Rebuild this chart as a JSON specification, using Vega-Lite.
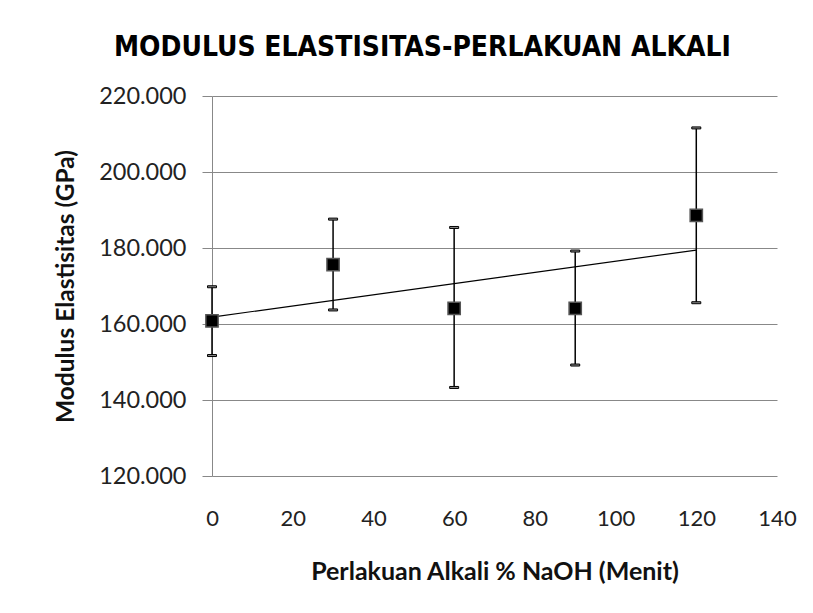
{
  "$schema": "https://vega.github.io/schema/vega-lite/v6.json",
  "width": 565,
  "height": 380,
  "autosize": "none",
  "padding": {"left": 212, "top": 96, "right": 36, "bottom": 137},
  "background": "white",
  "title": {
    "text": "MODULUS ELASTISITAS-PERLAKUAN ALKALI",
    "font": "DejaVu Sans Condensed, sans-serif",
    "fontSize": 28,
    "fontWeight": "bold",
    "color": "black",
    "anchor": "middle",
    "dx": -72,
    "offset": 22
  },
  "config": {
    "view": {"stroke": null},
    "axis": {
      "labelFont": "Lato",
      "labelFontSize": 22,
      "labelColor": "#222",
      "titleFont": "Lato",
      "titleFontSize": 25,
      "titleFontWeight": "bold",
      "titleColor": "#111"
    }
  },
  "data": {
    "values": [
      {"waktu": 0, "modulus": 160.8, "lo": 151.7, "hi": 169.8},
      {"waktu": 30, "modulus": 175.6, "lo": 163.7, "hi": 187.6},
      {"waktu": 60, "modulus": 164.1, "lo": 143.3, "hi": 185.4},
      {"waktu": 90, "modulus": 164.1, "lo": 149.2, "hi": 179.2},
      {"waktu": 120, "modulus": 188.6, "lo": 165.6, "hi": 211.6}
    ]
  },
  "encoding": {
    "x": {
      "field": "waktu",
      "type": "quantitative",
      "scale": {"domain": [0, 140], "nice": false, "zero": false},
      "axis": {
        "title": "Perlakuan Alkali % NaOH (Menit)",
        "values": [0, 20, 40, 60, 80, 100, 120, 140],
        "domain": false,
        "ticks": false,
        "tickSize": 0,
        "grid": false,
        "labelPadding": 32,
        "titlePadding": 30,
        "labelFlush": false
      }
    }
  },
  "layer": [
    {
      "mark": {"type": "rule", "color": "black", "strokeWidth": 1.5},
      "encoding": {
        "y": {
          "field": "lo",
          "type": "quantitative",
          "scale": {"domain": [120, 220], "nice": false, "zero": false},
          "axis": {
            "title": "Modulus Elastisitas (GPa)",
            "titleFontSize": 24.5,
            "values": [120, 140, 160, 180, 200, 220],
            "format": ".3f",
            "labelFontSize": 23.5,
            "domain": true,
            "domainColor": "#888",
            "ticks": true,
            "tickColor": "#888",
            "tickSize": 10,
            "grid": true,
            "gridColor": "#888",
            "gridOpacity": 1,
            "labelPadding": 16,
            "titlePadding": 20
          }
        },
        "y2": {"field": "hi"}
      }
    },
    {
      "mark": {"type": "tick", "orient": "horizontal", "size": 9, "thickness": 2, "color": "#888", "stroke": "black", "strokeWidth": 1, "opacity": 1},
      "encoding": {"y": {"field": "lo", "type": "quantitative"}}
    },
    {
      "mark": {"type": "tick", "orient": "horizontal", "size": 9, "thickness": 2, "color": "#888", "stroke": "black", "strokeWidth": 1, "opacity": 1},
      "encoding": {"y": {"field": "hi", "type": "quantitative"}}
    },
    {
      "transform": [{"regression": "modulus", "on": "waktu"}],
      "mark": {"type": "line", "color": "black", "strokeWidth": 1.2},
      "encoding": {"y": {"field": "modulus", "type": "quantitative"}}
    },
    {
      "mark": {"type": "point", "shape": "square", "filled": true, "size": 150, "fill": "black", "stroke": "#555", "strokeWidth": 1.5, "opacity": 1},
      "encoding": {"y": {"field": "modulus", "type": "quantitative"}}
    }
  ]
}
